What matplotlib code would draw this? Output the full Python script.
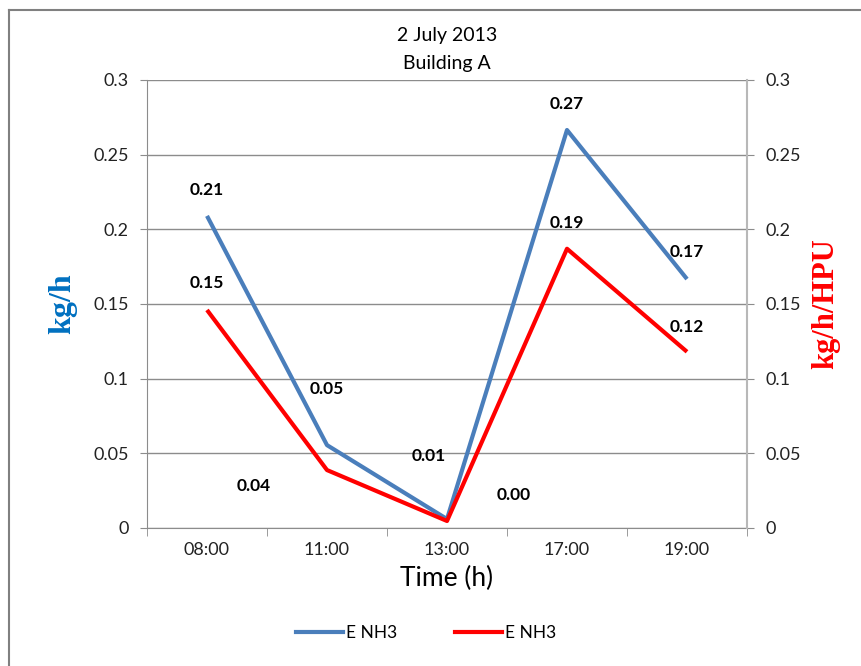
import matplotlib.pyplot as plt
from matplotlib.lines import Line2D

plt.rcParams['font.family'] = ['Lato', 'DejaVu Sans']

times = ["08:00", "11:00", "13:00", "17:00", "19:00"]
emission_kgh = [0.209, 0.0555, 0.006, 0.2665, 0.1667]
emission_hpu = [0.146, 0.0388, 0.0047, 0.187, 0.118]
labels_kgh = ["0.21", "0.05", "0.01", "0.27", "0.17"]
labels_hpu = ["0.15", "0.04", "0.00", "0.19", "0.12"]

# label offsets in pixels relative to each point
offsets_kgh = [(0, 26), (0, 56), (-18, 63), (0, 26), (0, 27)]
offsets_hpu = [(0, 27), (-73, -16), (67, 26), (0, 26), (0, 25)]

blue = "#4a7ebb"
red = "#ff0000"
grey = "#8c8c8c"

fig = plt.figure(figsize=(8.62, 6.66), dpi=100)
ax = fig.add_axes([147 / 862, 1 - 528 / 666, 600 / 862, 448 / 666])
ax2 = ax.twinx()

x = list(range(len(times)))
ax.plot(x, emission_kgh, color=blue, lw=3, solid_capstyle="butt")
ax2.plot(x, emission_hpu, color=red, lw=3, solid_capstyle="butt")

for a, vals, labs, offs in [(ax, emission_kgh, labels_kgh, offsets_kgh),
                            (ax2, emission_hpu, labels_hpu, offsets_hpu)]:
    for xi, v, lab, off in zip(x, vals, labs, offs):
        a.annotate(lab, (xi, v), xytext=off, textcoords="offset pixels",
                   ha="center", va="center", fontsize=12.5, fontweight="bold",
                   color="black")

for a in (ax, ax2):
    a.set_ylim(0, 0.3)
    a.set_yticks([0, 0.05, 0.1, 0.15, 0.2, 0.25, 0.3])
    a.set_yticklabels(["0", "0.05", "0.1", "0.15", "0.2", "0.25", "0.3"])
    a.tick_params(axis="y", length=5, color=grey, labelsize=13,
                  labelcolor="#222222", pad=8)
    for s in a.spines.values():
        s.set_visible(False)

ax.set_xlim(-0.5, len(times) - 0.5)
ax.set_xticks(x)
ax.set_xticklabels(times)
ax.set_xticks([i - 0.5 for i in range(len(times) + 1)], minor=True)
ax.tick_params(axis="x", which="major", length=0, labelsize=13,
               labelcolor="#222222", pad=10)
ax.tick_params(axis="x", which="minor", length=6, color=grey)

ax.yaxis.grid(True, color=grey, lw=1)
ax.set_axisbelow(True)
ax.spines["left"].set_visible(True)
ax.spines["left"].set_color(grey)
ax.spines["bottom"].set_visible(True)
ax.spines["bottom"].set_color(grey)
ax2.spines["right"].set_visible(True)
ax2.spines["right"].set_color("#b8b8b8")
ax2.spines["right"].set_linewidth(1.5)

ax.set_title("2 July 2013\nBuilding A", fontsize=14, pad=8, linespacing=1.75)
ax.set_xlabel("Time (h)", fontsize=19, labelpad=6)
ax.set_ylabel("kg/h", fontsize=23, fontweight="bold", color="#0070c0",
              family="Liberation Serif", labelpad=12)
ax2.set_ylabel("kg/h/HPU", fontsize=22, fontweight="bold", color=red,
               family="Liberation Serif", labelpad=8)

handles = [Line2D([], [], color=blue, lw=3), Line2D([], [], color=red, lw=3)]
fig.legend(handles, ["E NH3", "E NH3"], loc="center", ncol=2,
           bbox_to_anchor=(426 / 862, 1 - 633 / 666), frameon=False,
           fontsize=12.5, handlelength=2.7, handletextpad=0.2, columnspacing=3.3)

# chart frame
fig.add_artist(Line2D([9 / 862, 9 / 862], [0, 1 - 10 / 666],
                      transform=fig.transFigure, color="#808080", lw=1.5))
fig.add_artist(Line2D([9 / 862, 1], [1 - 10 / 666, 1 - 10 / 666],
                      transform=fig.transFigure, color="#808080", lw=1.5))

fig.savefig("out.png", dpi=100)
